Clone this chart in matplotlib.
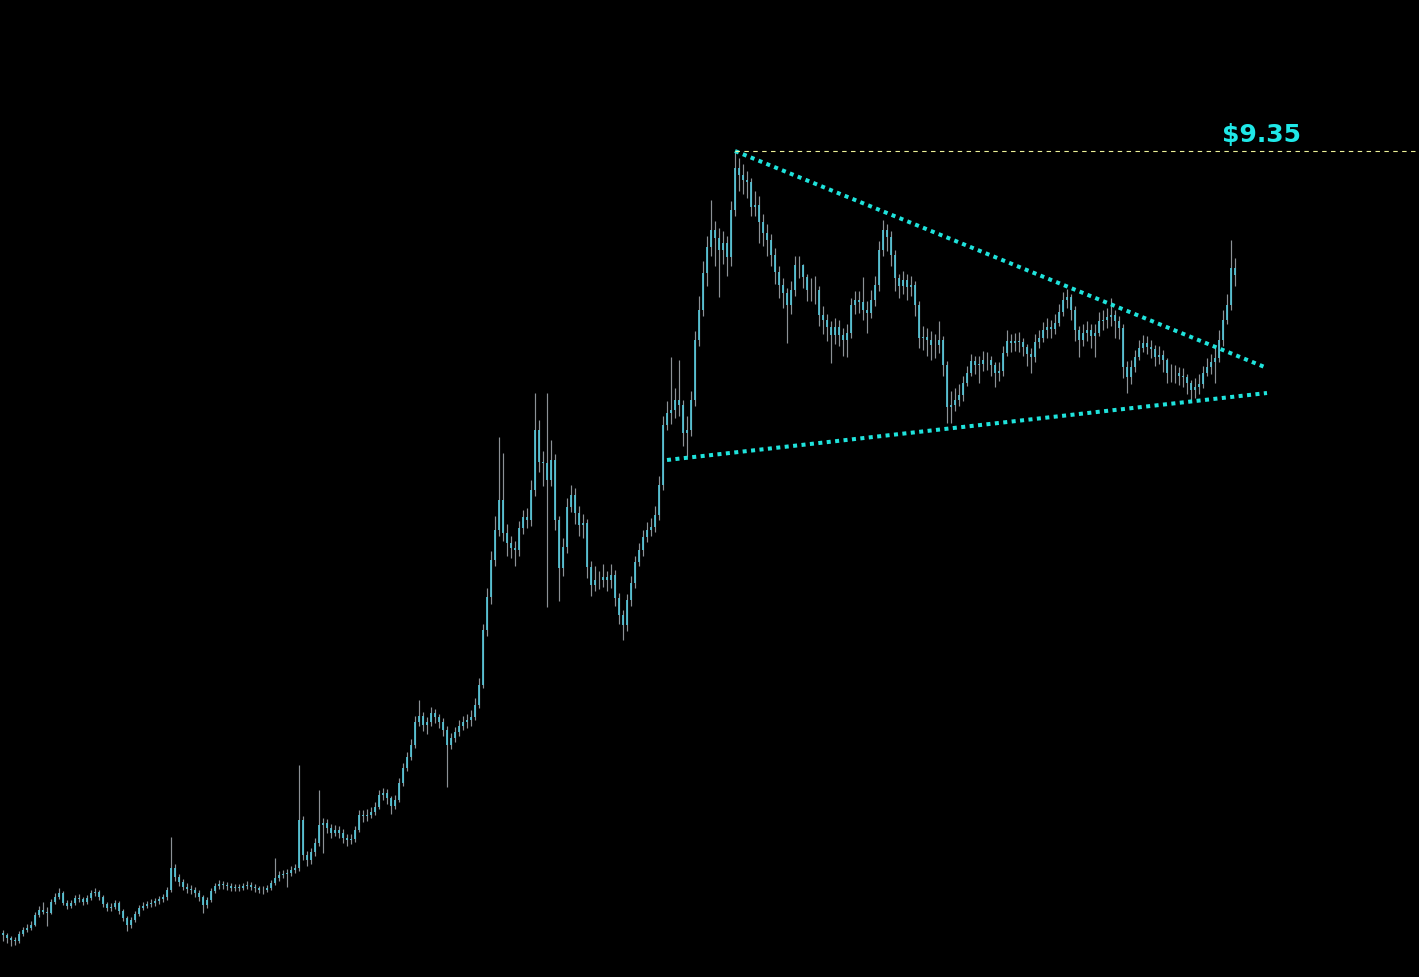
import numpy as np
import matplotlib
matplotlib.use('Agg')
import matplotlib.pyplot as plt

# closing prices, one per bar (open = previous close)
first_open = 1.53
closes = [
    1.51, 1.48, 1.46, 1.45, 1.52, 1.56, 1.58, 1.61, 1.71, 1.76,
    1.74, 1.73, 1.84, 1.89, 1.93, 1.83, 1.80, 1.83, 1.88, 1.87,
    1.84, 1.88, 1.93, 1.94, 1.89, 1.82, 1.78, 1.79, 1.83, 1.75,
    1.68, 1.61, 1.66, 1.72, 1.78, 1.80, 1.82, 1.83, 1.85, 1.87,
    1.89, 1.96, 2.18, 2.09, 2.04, 1.99, 1.97, 1.96, 1.93, 1.89,
    1.81, 1.86, 1.95, 2.00, 2.02, 2.01, 2.00, 1.98, 1.99, 1.98,
    2.00, 2.01, 1.99, 1.98, 1.96, 1.96, 1.98, 2.03, 2.08, 2.11,
    2.12, 2.13, 2.16, 2.18, 2.66, 2.31, 2.26, 2.34, 2.43, 2.61,
    2.63, 2.58, 2.53, 2.56, 2.53, 2.48, 2.46, 2.47, 2.56, 2.71,
    2.70, 2.71, 2.74, 2.79, 2.91, 2.93, 2.88, 2.80, 2.86, 3.03,
    3.18, 3.29, 3.41, 3.64, 3.70, 3.61, 3.64, 3.73, 3.69, 3.64,
    3.56, 3.41, 3.48, 3.54, 3.60, 3.64, 3.66, 3.69, 3.81, 4.01,
    4.56, 4.89, 5.26, 5.56, 5.86, 5.53, 5.43, 5.38, 5.36, 5.58,
    5.69, 5.66, 5.96, 6.56, 6.24, 6.23, 6.06, 6.26, 5.66, 5.18,
    5.39, 5.79, 5.91, 5.73, 5.61, 5.63, 5.19, 5.01, 5.06, 5.06,
    5.09, 5.06, 5.11, 4.88, 4.71, 4.61, 4.86, 5.03, 5.24, 5.36,
    5.49, 5.56, 5.59, 5.71, 6.01, 6.61, 6.73, 6.76, 6.86, 6.81,
    6.53, 6.56, 6.86, 7.46, 7.76, 8.13, 8.39, 8.56, 8.48, 8.36,
    8.43, 8.29, 8.76, 9.18, 9.11, 9.06, 9.04, 8.79, 8.81, 8.64,
    8.53, 8.46, 8.31, 8.14, 8.01, 7.93, 7.81, 7.96, 8.21, 8.21,
    8.09, 7.96, 7.96, 7.96, 7.71, 7.66, 7.59, 7.51, 7.59, 7.51,
    7.46, 7.53, 7.81, 7.86, 7.84, 7.76, 7.73, 7.86, 8.01, 8.36,
    8.56, 8.49, 8.31, 8.08, 8.00, 8.06, 7.99, 8.01, 7.81, 7.48,
    7.49, 7.46, 7.41, 7.41, 7.46, 7.21, 6.79, 6.81, 6.86, 6.91,
    7.03, 7.13, 7.25, 7.21, 7.22, 7.26, 7.26, 7.21, 7.13, 7.15,
    7.33, 7.45, 7.43, 7.45, 7.44, 7.39, 7.32, 7.29, 7.44, 7.48,
    7.56, 7.59, 7.57, 7.63, 7.74, 7.86, 7.89, 7.76, 7.56, 7.46,
    7.53, 7.56, 7.50, 7.53, 7.65, 7.66, 7.69, 7.71, 7.65, 7.58,
    7.19, 7.09, 7.19, 7.29, 7.38, 7.43, 7.39, 7.37, 7.29, 7.31,
    7.26, 7.13, 7.13, 7.13, 7.10, 7.09, 7.03, 6.96, 6.99, 7.02,
    7.13, 7.19, 7.24, 7.28, 7.46, 7.66, 7.81, 8.18, 8.11,
]
highs = [
    1.56, 1.53, 1.50, 1.49, 1.55, 1.59, 1.62, 1.65, 1.74, 1.80,
    1.84, 1.79, 1.87, 1.93, 1.98, 1.95, 1.86, 1.86, 1.91, 1.92,
    1.89, 1.91, 1.96, 1.98, 1.96, 1.91, 1.84, 1.83, 1.86, 1.85,
    1.77, 1.70, 1.69, 1.75, 1.81, 1.84, 1.85, 1.87, 1.88, 1.90,
    1.92, 1.99, 2.49, 2.22, 2.12, 2.07, 2.03, 2.01, 1.99, 1.96,
    1.91, 1.89, 1.98, 2.03, 2.06, 2.05, 2.04, 2.03, 2.02, 2.02,
    2.03, 2.05, 2.04, 2.02, 2.00, 2.00, 2.01, 2.06, 2.28, 2.15,
    2.16, 2.17, 2.20, 2.22, 3.21, 2.70, 2.35, 2.38, 2.48, 2.96,
    2.68, 2.67, 2.62, 2.61, 2.60, 2.57, 2.52, 2.52, 2.60, 2.76,
    2.76, 2.77, 2.79, 2.84, 2.96, 2.98, 2.97, 2.90, 2.91, 3.08,
    3.23, 3.34, 3.47, 3.70, 3.86, 3.74, 3.69, 3.79, 3.77, 3.72,
    3.68, 3.60, 3.53, 3.59, 3.66, 3.70, 3.72, 3.76, 3.88, 4.08,
    4.62, 4.98, 5.35, 5.70, 6.49, 6.33, 5.62, 5.50, 5.45, 5.65,
    5.76, 5.78, 6.06, 6.93, 6.66, 6.35, 6.93, 6.46, 6.32, 5.70,
    5.48, 5.88, 6.01, 5.98, 5.80, 5.72, 5.67, 5.25, 5.20, 5.15,
    5.22, 5.15, 5.22, 5.16, 4.93, 4.76, 4.92, 5.10, 5.30, 5.43,
    5.56, 5.64, 5.68, 5.80, 6.10, 6.70, 6.85, 7.29, 6.98, 7.26,
    6.86, 6.70, 6.95, 7.55, 7.90, 8.25, 8.50, 8.86, 8.65, 8.58,
    8.55, 8.50, 8.85, 9.35, 9.28, 9.22, 9.15, 9.08, 8.95, 8.90,
    8.72, 8.62, 8.52, 8.38, 8.20, 8.08, 7.98, 8.05, 8.30, 8.30,
    8.22, 8.12, 8.08, 8.10, 8.00, 7.80, 7.72, 7.65, 7.68, 7.66,
    7.58, 7.62, 7.88, 7.95, 7.95, 8.09, 7.85, 7.96, 8.10, 8.45,
    8.66, 8.62, 8.55, 8.36, 8.12, 8.15, 8.12, 8.10, 8.05, 7.85,
    7.60, 7.58, 7.55, 7.52, 7.65, 7.50, 7.25, 6.95, 6.98, 7.02,
    7.10, 7.20, 7.32, 7.30, 7.30, 7.35, 7.34, 7.30, 7.24, 7.24,
    7.40, 7.56, 7.52, 7.53, 7.54, 7.48, 7.42, 7.38, 7.52, 7.56,
    7.64, 7.68, 7.66, 7.72, 7.82, 7.94, 7.97, 7.92, 7.80, 7.60,
    7.62, 7.65, 7.62, 7.62, 7.74, 7.76, 7.78, 7.88, 7.76, 7.70,
    7.62, 7.25, 7.26, 7.36, 7.46, 7.51, 7.50, 7.46, 7.41, 7.40,
    7.36, 7.28, 7.22, 7.21, 7.19, 7.18, 7.12, 7.06, 7.08, 7.12,
    7.20, 7.28, 7.32, 7.40, 7.56, 7.76, 7.92, 8.46, 8.28,
]
lows = [
    1.45, 1.43, 1.40, 1.41, 1.43, 1.50, 1.54, 1.56, 1.60, 1.69,
    1.72, 1.60, 1.72, 1.82, 1.87, 1.81, 1.77, 1.78, 1.81, 1.84,
    1.81, 1.82, 1.86, 1.90, 1.86, 1.79, 1.75, 1.75, 1.77, 1.72,
    1.65, 1.55, 1.58, 1.64, 1.70, 1.76, 1.78, 1.79, 1.80, 1.82,
    1.84, 1.86, 1.94, 2.05, 2.00, 1.96, 1.93, 1.92, 1.89, 1.85,
    1.73, 1.78, 1.84, 1.93, 1.97, 1.97, 1.96, 1.95, 1.95, 1.95,
    1.96, 1.97, 1.96, 1.94, 1.93, 1.92, 1.94, 1.96, 2.01, 2.05,
    2.08, 1.99, 2.10, 2.13, 2.15, 2.26, 2.20, 2.22, 2.30, 2.40,
    2.33, 2.53, 2.48, 2.50, 2.48, 2.43, 2.40, 2.42, 2.44, 2.54,
    2.64, 2.65, 2.68, 2.71, 2.77, 2.86, 2.82, 2.72, 2.77, 2.84,
    3.00, 3.15, 3.26, 3.38, 3.60, 3.55, 3.52, 3.60, 3.63, 3.58,
    3.50, 2.99, 3.37, 3.44, 3.50, 3.56, 3.58, 3.60, 3.66, 3.78,
    3.98, 4.50, 4.82, 5.20, 5.50, 5.45, 5.30, 5.28, 5.20, 5.30,
    5.52, 5.58, 5.60, 5.90, 6.14, 6.00, 4.79, 6.00, 5.56, 4.85,
    5.10, 5.33, 5.74, 5.62, 5.50, 5.48, 5.08, 4.90, 4.95, 4.97,
    4.99, 4.95, 4.98, 4.80, 4.62, 4.46, 4.55, 4.80, 4.98, 5.20,
    5.30, 5.44, 5.50, 5.54, 5.66, 5.96, 6.56, 6.62, 6.68, 6.70,
    6.40, 6.29, 6.50, 6.80, 7.40, 7.70, 8.00, 8.30, 8.20, 7.89,
    8.22, 8.10, 8.20, 8.70, 8.95, 8.92, 8.88, 8.70, 8.70, 8.43,
    8.40, 8.30, 8.20, 8.02, 7.88, 7.78, 7.43, 7.72, 7.90, 8.08,
    7.98, 7.85, 7.85, 7.82, 7.60, 7.52, 7.45, 7.23, 7.42, 7.40,
    7.30, 7.29, 7.48, 7.72, 7.73, 7.66, 7.53, 7.68, 7.80, 7.95,
    8.30, 8.35, 8.20, 7.95, 7.88, 7.92, 7.86, 7.90, 7.70, 7.38,
    7.36, 7.30, 7.26, 7.28, 7.33, 7.10, 6.63, 6.63, 6.75, 6.80,
    6.85, 7.00, 7.10, 7.12, 7.03, 7.15, 7.16, 7.10, 6.99, 7.05,
    7.10, 7.30, 7.34, 7.35, 7.34, 7.30, 7.20, 7.13, 7.24, 7.38,
    7.44, 7.48, 7.48, 7.52, 7.60, 7.70, 7.78, 7.66, 7.45, 7.29,
    7.40, 7.45, 7.38, 7.29, 7.50, 7.56, 7.58, 7.60, 7.48, 7.47,
    7.08, 6.93, 7.02, 7.14, 7.26, 7.34, 7.32, 7.28, 7.20, 7.22,
    7.14, 7.03, 7.04, 7.03, 7.01, 6.99, 6.92, 6.84, 6.88, 6.92,
    6.98, 7.10, 7.12, 7.03, 7.24, 7.40, 7.62, 7.76, 8.00,
]

# annotations
resistance_price = 9.35
resistance_label = '$9.35'
upper_trend = ([183, 316], [9.35, 7.18])   # bar index, price
lower_trend = ([166, 316], [6.26, 6.93])

opens = [first_open] + closes[:-1]
x = np.arange(len(closes))

fig = plt.figure(figsize=(14.19, 9.77), dpi=100, facecolor='black')
ax = fig.add_axes([0, 0, 1, 1])
ax.set_facecolor('black')

ax.vlines(x, lows, highs, color='#8c9196', linewidth=0.85)
ax.vlines(x, opens, closes, color='#55c6d8', linewidth=1.25)

# dotted trend lines
for xs, ys in (upper_trend, lower_trend):
    ax.plot(xs, ys, color='#1fe3dc', linewidth=2.9, linestyle=(0, (1, 1.1)),
            dash_capstyle='butt')

ax.plot([upper_trend[0][0], 400], [resistance_price, resistance_price],
        color='#eef29a', linewidth=0.8, linestyle=(0, (4, 4)))
ax.text(304.75, 9.51, resistance_label.replace('$', r'\$'), color='#1fe8e8',
        fontsize=18, fontweight='bold', ha='left', va='center',
        family='DejaVu Sans')

ax.set_xlim(-0.75, -0.75 + 1419 / 4)
ax.set_ylim(1.09, 10.86)
ax.axis('off')

fig.savefig('out.png', dpi=100, facecolor='black')
